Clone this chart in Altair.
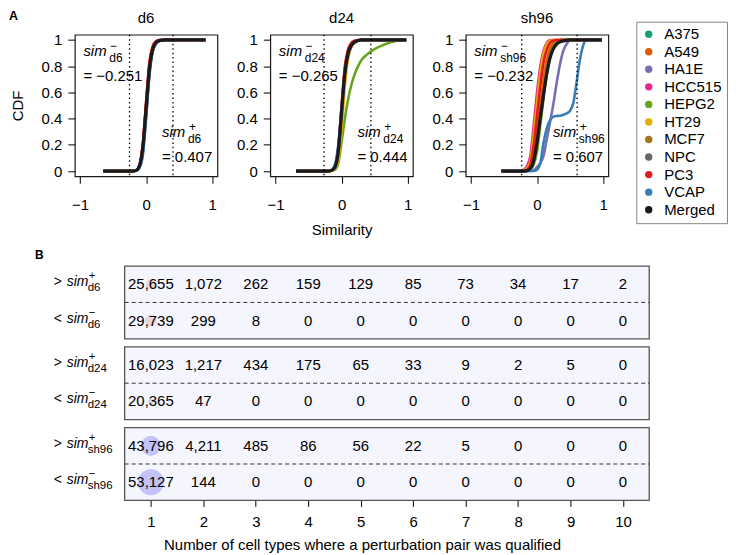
import altair as alt
import pandas as pd

FONT = "Liberation Sans"

# ---------------- data ----------------
CELL_LINES = ["A375", "A549", "HA1E", "HCC515", "HEPG2", "HT29", "MCF7", "NPC", "PC3", "VCAP"]
SERIES = CELL_LINES + ["Merged"]
SERIES_COLORS = ["#1B9E77", "#D95F02", "#7570B3", "#E7298A", "#66A61E", "#E6AB02",
                 "#A6761D", "#666666", "#E41A1C", "#377EB8", "#1a1a1a"]

PANELS = ["d6", "d24", "sh96"]
SIM_MINUS = [-0.251, -0.265, -0.232]
SIM_PLUS = [0.407, 0.444, 0.607]

# similarity grid (x) and CDF values (y)
SIM_D6 = [-0.65, -0.3, -0.2, -0.15, -0.1, -0.05, 0.0, 0.05, 0.1, 0.15, 0.2, 0.25, 0.3, 0.4, 0.6, 0.9]
CDF_D6 = {
    "A375":   [0, 0, 0, 0.004, 0.035, 0.17, 0.47, 0.77, 0.93, 0.98, 0.995, 1, 1, 1, 1, 1],
    "A549":   [0, 0, 0, 0.006, 0.045, 0.20, 0.52, 0.82, 0.95, 0.99, 1, 1, 1, 1, 1, 1],
    "HA1E":   [0, 0, 0, 0.003, 0.030, 0.15, 0.44, 0.75, 0.92, 0.975, 0.993, 0.999, 1, 1, 1, 1],
    "HCC515": [0, 0, 0, 0.005, 0.040, 0.19, 0.50, 0.80, 0.94, 0.985, 0.997, 1, 1, 1, 1, 1],
    "HEPG2":  [0, 0, 0, 0.004, 0.035, 0.16, 0.45, 0.76, 0.92, 0.975, 0.993, 0.999, 1, 1, 1, 1],
    "HT29":   [0, 0, 0, 0.005, 0.040, 0.18, 0.49, 0.79, 0.94, 0.98, 0.996, 1, 1, 1, 1, 1],
    "MCF7":   [0, 0, 0, 0.005, 0.040, 0.17, 0.47, 0.77, 0.93, 0.98, 0.995, 1, 1, 1, 1, 1],
    "NPC":    [0, 0, 0, 0.004, 0.030, 0.14, 0.42, 0.73, 0.91, 0.97, 0.99, 0.998, 1, 1, 1, 1],
    "PC3":    [0, 0, 0, 0.006, 0.050, 0.21, 0.53, 0.83, 0.95, 0.99, 1, 1, 1, 1, 1, 1],
    "VCAP":   [0, 0, 0, 0.003, 0.025, 0.12, 0.40, 0.74, 0.92, 0.975, 0.993, 0.999, 1, 1, 1, 1],
    "Merged": [0, 0, 0, 0.005, 0.040, 0.18, 0.48, 0.78, 0.93, 0.98, 0.995, 0.999, 1, 1, 1, 1],
}

SIM_D24 = [-0.69, -0.3, -0.2, -0.15, -0.1, -0.05, 0.0, 0.05, 0.1, 0.15, 0.2, 0.25, 0.3,
           0.4, 0.5, 0.6, 0.7, 0.8, 0.9, 0.98]
CDF_D24 = {
    "A375":   [0, 0, 0, 0.004, 0.028, 0.14, 0.44, 0.74, 0.90, 0.96, 0.985, 0.995, 1, 1, 1, 1, 1, 1, 1, 1],
    "A549":   [0, 0, 0, 0.006, 0.035, 0.17, 0.48, 0.78, 0.92, 0.97, 0.99, 0.997, 1, 1, 1, 1, 1, 1, 1, 1],
    "HA1E":   [0, 0, 0, 0.004, 0.025, 0.13, 0.42, 0.72, 0.88, 0.95, 0.98, 0.993, 1, 1, 1, 1, 1, 1, 1, 1],
    "HCC515": [0, 0, 0, 0.005, 0.030, 0.15, 0.46, 0.76, 0.91, 0.965, 0.988, 0.996, 1, 1, 1, 1, 1, 1, 1, 1],
    "HEPG2":  [0, 0, 0, 0.002, 0.010, 0.06, 0.22, 0.40, 0.55, 0.66, 0.74, 0.80, 0.845, 0.895, 0.93, 0.955, 0.975, 0.99, 0.998, 1],
    "HT29":   [0, 0, 0, 0.002, 0.015, 0.08, 0.32, 0.65, 0.86, 0.95, 0.98, 0.995, 1, 1, 1, 1, 1, 1, 1, 1],
    "MCF7":   [0, 0, 0, 0.004, 0.025, 0.13, 0.43, 0.74, 0.90, 0.96, 0.985, 0.995, 1, 1, 1, 1, 1, 1, 1, 1],
    "NPC":    [0, 0, 0, 0.004, 0.027, 0.14, 0.44, 0.74, 0.89, 0.955, 0.983, 0.994, 1, 1, 1, 1, 1, 1, 1, 1],
    "PC3":    [0, 0, 0, 0.006, 0.040, 0.18, 0.50, 0.80, 0.93, 0.98, 0.995, 1, 1, 1, 1, 1, 1, 1, 1, 1],
    "VCAP":   [0, 0, 0, 0.008, 0.050, 0.20, 0.48, 0.76, 0.90, 0.96, 0.985, 0.995, 1, 1, 1, 1, 1, 1, 1, 1],
    "Merged": [0, 0, 0, 0.005, 0.030, 0.15, 0.45, 0.75, 0.90, 0.96, 0.985, 0.995, 1, 1, 1, 1, 1, 1, 1, 1],
}

SIM_SH96 = [-0.54, -0.3, -0.2, -0.15, -0.1, -0.05, 0.0, 0.05, 0.1, 0.15, 0.2, 0.25, 0.3, 0.35,
            0.4, 0.45, 0.5, 0.55, 0.6, 0.65, 0.7, 0.75, 0.85, 0.98]
CDF_SH96 = {
    "A375":   [0, 0, 0, 0.003, 0.02, 0.08, 0.24, 0.45, 0.66, 0.82, 0.92, 0.97, 0.99, 1, 1, 1, 1, 1, 1, 1, 1, 1, 1, 1],
    "A549":   [0, 0, 0, 0.005, 0.02, 0.10, 0.28, 0.50, 0.70, 0.85, 0.94, 0.98, 0.995, 1, 1, 1, 1, 1, 1, 1, 1, 1, 1, 1],
    "HA1E":   [0, 0, 0, 0, 0, 0.005, 0.03, 0.06, 0.12, 0.25, 0.38, 0.52, 0.68, 0.82, 0.92, 0.97, 1, 1, 1, 1, 1, 1, 1, 1],
    "HCC515": [0, 0, 0.01, 0.04, 0.12, 0.35, 0.60, 0.80, 0.92, 0.98, 1, 1, 1, 1, 1, 1, 1, 1, 1, 1, 1, 1, 1, 1],
    "HEPG2":  [0, 0, 0, 0, 0.01, 0.05, 0.15, 0.35, 0.56, 0.75, 0.88, 0.95, 0.985, 1, 1, 1, 1, 1, 1, 1, 1, 1, 1, 1],
    "HT29":   [0, 0, 0.005, 0.02, 0.08, 0.28, 0.52, 0.75, 0.90, 0.97, 0.995, 1, 1, 1, 1, 1, 1, 1, 1, 1, 1, 1, 1, 1],
    "MCF7":   [0, 0, 0, 0.002, 0.015, 0.07, 0.20, 0.40, 0.60, 0.78, 0.90, 0.96, 0.99, 1, 1, 1, 1, 1, 1, 1, 1, 1, 1, 1],
    "NPC":    [0, 0, 0, 0.003, 0.02, 0.08, 0.22, 0.40, 0.58, 0.75, 0.87, 0.94, 0.97, 0.985, 0.993, 1, 1, 1, 1, 1, 1, 1, 1, 1],
    "PC3":    [0, 0, 0, 0.01, 0.05, 0.20, 0.42, 0.65, 0.83, 0.93, 0.98, 0.995, 1, 1, 1, 1, 1, 1, 1, 1, 1, 1, 1, 1],
    "VCAP":   [0, 0, 0, 0, 0, 0, 0.01, 0.06, 0.22, 0.33, 0.39, 0.415, 0.42, 0.422, 0.43, 0.44, 0.46, 0.52, 0.68, 0.85, 0.96, 1, 1, 1],
    "Merged": [0, 0, 0, 0.003, 0.02, 0.08, 0.22, 0.41, 0.59, 0.75, 0.87, 0.935, 0.97, 0.985, 0.993, 0.997, 1, 1, 1, 1, 1, 1, 1, 1],
}

SIM_GRID = {"d6": SIM_D6, "d24": SIM_D24, "sh96": SIM_SH96}
CDF = {"d6": CDF_D6, "d24": CDF_D24, "sh96": CDF_SH96}

# table (panel B)
N_CELL_TYPES = list(range(1, 11))
ABOVE = {
    "d6":   [25655, 1072, 262, 159, 129, 85, 73, 34, 17, 2],
    "d24":  [16023, 1217, 434, 175, 65, 33, 9, 2, 5, 0],
    "sh96": [43796, 4211, 485, 86, 56, 22, 5, 0, 0, 0],
}
BELOW = {
    "d6":   [29739, 299, 8, 0, 0, 0, 0, 0, 0, 0],
    "d24":  [20365, 47, 0, 0, 0, 0, 0, 0, 0, 0],
    "sh96": [53127, 144, 0, 0, 0, 0, 0, 0, 0, 0],
}
# relative bubble values shown behind the first column
BUBBLE_ABOVE = {"d6": 0.10, "d24": 0.01, "sh96": 0.40}
BUBBLE_BELOW = {"d6": 0.14, "d24": 0.03, "sh96": 0.68}
BUBBLE_COLORS = {"d6": "#ECD5D5", "d24": "#D2D2D2", "sh96": "#C3C3F8"}

# ---------------- styles ----------------
PANEL_W, PANEL_H = 143, 142
TABLE_W, TABLE_H = 576, 73
TABLE_BG = "#F5F5FE"


def fmt_minus(v):
    return f"= {v:.3f}".replace("-", "\u2212")


series_scale = alt.Scale(domain=SERIES, range=SERIES_COLORS)
line_color = alt.Color("series:N", scale=series_scale, legend=None)
legend_color = alt.Color(
    "series:N",
    scale=series_scale,
    legend=alt.Legend(
        orient="none", legendX=563, legendY=-13, title=None, titlePadding=0,
        symbolType="circle", symbolSize=55, symbolStrokeWidth=0,
        labelFontSize=15, labelFont=FONT, labelColor="black",
        rowPadding=1.6, padding=5, strokeColor="#888888", fillColor="white",
        labelOffset=8,
    ),
)


def cdf_panel(i):
    name = PANELS[i]
    xs = SIM_GRID[name]
    rows = []
    for s in SERIES:
        for x, y in zip(xs, CDF[name][s]):
            rows.append({"series": s, "sim": x, "cdf": y})
    df = pd.DataFrame(rows)

    xsc = alt.Scale(domain=[-1.08, 1.08], nice=False, zero=False)
    ysc = alt.Scale(domain=[-0.04, 1.04], nice=False, zero=False)
    xaxis = alt.Axis(values=[-1, 0, 1], format="~g", tickSize=7, labelPadding=14,
                     title="Similarity" if i == 1 else None, titlePadding=10)
    yaxis = alt.Axis(values=[0, 0.2, 0.4, 0.6, 0.8, 1], format="~g", tickSize=7,
                     labelPadding=6, title="CDF" if i == 0 else None, titlePadding=16)

    def X(f):
        return alt.X(f, scale=xsc, axis=xaxis)

    def Y(f):
        return alt.Y(f, scale=ysc, axis=yaxis)

    base = alt.Chart(df)
    # carries the legend only (no rows pass the filter)
    legend_layer = base.transform_filter("false").mark_point(filled=True, opacity=1).encode(
        x=X("sim:Q"), y=Y("cdf:Q"), color=legend_color)
    cells = base.transform_filter("datum.series != 'Merged'").mark_line(
        strokeWidth=2.6, interpolate="monotone"
    ).encode(x=X("sim:Q"), y=Y("cdf:Q"), color=line_color)
    merged = base.transform_filter("datum.series == 'Merged'").mark_line(
        strokeWidth=3.2, interpolate="monotone"
    ).encode(x=X("sim:Q"), y=Y("cdf:Q"), color=line_color)

    thr = pd.DataFrame({"t": [SIM_MINUS[i], SIM_PLUS[i]]})
    rules = alt.Chart(thr).mark_rule(strokeDash=[1.5, 3], strokeWidth=1.3, color="black").encode(
        x=X("t:Q"))

    ann = pd.DataFrame({
        "ax": [-0.95, 0.24],
        "y_sim": [0.879, 0.258],
        "y_eq": [0.686, 0.068],
        "sup": ["\u2212", "+"],
        "sub": [name, name],
        "eq": [fmt_minus(SIM_MINUS[i]), fmt_minus(SIM_PLUS[i])],
    })
    a = alt.Chart(ann)
    sim_t = a.mark_text(align="left", baseline="alphabetic", fontStyle="italic", fontSize=15,
                        font=FONT, color="black").encode(x=X("ax:Q"), y=Y("y_sim:Q"),
                                                         text=alt.value("sim"))
    sup_t = a.mark_text(align="left", baseline="alphabetic", fontSize=12, font=FONT,
                        color="black", dx=27, dy=-6).encode(x=X("ax:Q"), y=Y("y_sim:Q"),
                                                            text="sup:N")
    sub_t = a.mark_text(align="left", baseline="alphabetic", fontSize=12, font=FONT,
                        color="black", dx=26, dy=6).encode(x=X("ax:Q"), y=Y("y_sim:Q"),
                                                           text="sub:N")
    eq_t = a.mark_text(align="left", baseline="alphabetic", fontSize=15, font=FONT,
                       color="black").encode(x=X("ax:Q"), y=Y("y_eq:Q"), text="eq:N")

    # panel title
    ttl = alt.Chart(pd.DataFrame({"panel": [name]})).mark_text(
        align="center", baseline="middle", fontSize=15, font=FONT, color="black"
    ).encode(x=alt.value(PANEL_W / 2), y=alt.value(-17), text="panel:N")

    layers = [legend_layer, cells, merged, rules, sim_t, sup_t, sub_t, eq_t, ttl]
    if i == 0:
        tag = alt.Chart(pd.DataFrame({"tag": ["A"]})).mark_text(
            align="left", baseline="middle", fontSize=12.5, fontWeight="bold",
            font=FONT, color="black").encode(x=alt.value(-66), y=alt.value(-19), text="tag:N")
        layers.append(tag)

    return alt.layer(*layers).properties(width=PANEL_W, height=PANEL_H)


def table_panel(i):
    ds = PANELS[i]
    rows = []
    for d, vals in ((">", ABOVE[ds]), ("<", BELOW[ds])):
        for n, c in zip(N_CELL_TYPES, vals):
            rows.append({"dir": d, "n": n, "count": c})
    df = pd.DataFrame(rows)

    lo = min(N_CELL_TYPES) - 0.5
    hi = max(N_CELL_TYPES) + 0.5
    xsc = alt.Scale(domain=[-0.45, hi], nice=False, zero=False)
    ysc = alt.Scale(domain=[">", "<"], paddingInner=0, paddingOuter=0)
    if i == 2:
        xaxis = alt.Axis(values=N_CELL_TYPES, format="d", tickSize=6, labelPadding=8,
                         title="Number of cell types where a perturbation pair was qualified",
                         titlePadding=8)
    else:
        xaxis = None

    def X(f):
        return alt.X(f, scale=xsc, axis=xaxis)

    def Y(f, bp=0.5):
        return alt.Y(f, scale=ysc, axis=None, bandPosition=bp)

    frame_df = pd.DataFrame({"lo": [lo], "hi": [hi], "dir": ["<"]})
    frame = alt.Chart(frame_df).mark_rect(fill=TABLE_BG, stroke="#555555", strokeWidth=1.3).encode(
        x=X("lo:Q"), x2="hi:Q")
    divider = alt.Chart(frame_df).mark_rule(strokeDash=[4, 3], strokeWidth=1, color="#333333").encode(
        x=X("lo:Q"), x2="hi:Q", y=Y("dir:N", 0))

    bub = pd.DataFrame({"dir": [">", "<"], "n": [1, 1],
                        "bubble": [BUBBLE_ABOVE[ds], BUBBLE_BELOW[ds]]})
    bubbles = alt.Chart(bub).mark_circle(opacity=1, color=BUBBLE_COLORS[ds]).encode(
        x=X("n:Q"), y=Y("dir:N"),
        size=alt.Size("bubble:Q", scale=alt.Scale(domain=[0, 1], range=[0, 1000]), legend=None))

    nums = alt.Chart(df).mark_text(fontSize=15, font=FONT, color="black", baseline="middle").encode(
        x=X("n:Q"), y=Y("dir:N"), text=alt.Text("count:Q", format=",d"))

    lab = pd.DataFrame({"dir": [">", "<"], "rel": [">", "<"], "sup": ["+", "\u2212"],
                        "sub": [ds, ds], "lx": [-0.85, -0.85]})
    L = alt.Chart(lab)
    rel_t = L.mark_text(align="left", baseline="alphabetic", fontSize=14, font=FONT,
                        color="black", dy=2).encode(x=X("lx:Q"), y=Y("dir:N"), text="rel:N")
    sim_t = L.mark_text(align="left", baseline="alphabetic", fontSize=14, font=FONT,
                        fontStyle="italic", color="black", dx=13, dy=2).encode(
        x=X("lx:Q"), y=Y("dir:N"), text=alt.value("sim"))
    sup_t = L.mark_text(align="left", baseline="alphabetic", fontSize=11.5, font=FONT,
                        color="black", dx=35, dy=-5).encode(x=X("lx:Q"), y=Y("dir:N"), text="sup:N")
    sub_t = L.mark_text(align="left", baseline="alphabetic", fontSize=11.5, font=FONT,
                        color="black", dx=34, dy=7).encode(x=X("lx:Q"), y=Y("dir:N"), text="sub:N")

    layers = [frame, divider, bubbles, nums, rel_t, sim_t, sup_t, sub_t]
    if i == 0:
        tag = alt.Chart(pd.DataFrame({"tag": ["B"]})).mark_text(
            align="left", baseline="alphabetic", fontSize=12, fontWeight="bold",
            font=FONT, color="black").encode(x=alt.value(-40), y=alt.value(-7), text="tag:N")
        layers.append(tag)

    return alt.layer(*layers).properties(
        width=TABLE_W, height=TABLE_H,
        view=alt.ViewBackground(stroke="transparent", fill="transparent"),
    )


top = alt.hconcat(cdf_panel(0), cdf_panel(1), cdf_panel(2), spacing=17)
tables = alt.vconcat(table_panel(0), table_panel(1), table_panel(2), spacing=4)

chart = alt.vconcat(top, tables, spacing=10).properties(padding=0).configure(
    font=FONT
).configure_view(
    stroke="#1a1a1a", strokeWidth=1.2
).configure_axis(
    labelFont=FONT, labelFontSize=15, labelColor="black",
    titleFont=FONT, titleFontSize=15, titleFontWeight="normal", titleColor="black",
    tickColor="black", tickWidth=1, grid=False, domain=False,
)

chart.save("out.html", embed_options={"renderer": "svg", "actions": False})
